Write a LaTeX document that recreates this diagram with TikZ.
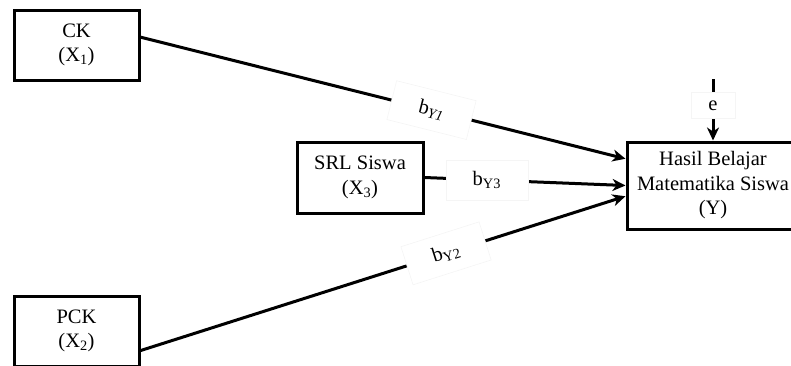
\documentclass[tikz,border=0pt]{standalone}
\usepackage{fontspec}
\setmainfont{Liberation Serif}
\usetikzlibrary{arrows.meta}
\begin{document}
\begin{tikzpicture}[x=1pt,y=-1pt,
 txt/.style={font=\fontsize{20.5}{24.5}\selectfont},
 box/.style={txt,draw,line width=3pt,fill=white,align=center,inner sep=0pt},
 lbl/.style={txt,fill=white,draw=black!4,line width=0.6pt,inner sep=0pt,minimum width=82pt,minimum height=40pt},
 elbl/.style={txt,fill=white,draw=black!4,line width=0.6pt,inner sep=0pt,minimum width=44pt,minimum height=26pt},
 conn/.style={line width=3pt},
 arr/.style={conn,-{Stealth[length=13pt,width=12pt,inset=4pt]}}]
\useasboundingbox (0,0) rectangle (791,365);
\clip (0,0) rectangle (791,365);
\node[box,minimum width=125pt,minimum height=70pt] (ck) at (76.5,45) {CK\\(X\textsubscript{1})};
\node[box,minimum width=125pt,minimum height=70pt] (pck) at (76.5,331) {PCK\\(X\textsubscript{2})};
\node[box,minimum width=126pt,minimum height=71pt] (srl) at (360,177.5) {SRL Siswa\\(X\textsubscript{3})};
\node[box,minimum width=172pt,minimum height=87pt] (y) at (713,185.5) {Hasil Belajar\\Matematika Siswa\\(Y)};
\coordinate (etop) at (713,79);
\draw[arr] (ck.7) -- node[lbl,sloped,pos=0.6] (l1) {b\textsubscript{\textit{Y1}}} (y.163.5);
\draw[arr] (srl.east) -- node[lbl,pos=0.31] (l3) {b\textsubscript{Y3}} (y.west);
\draw[arr] (pck.-17) -- node[lbl,sloped,pos=0.63] (l2) {b\textsubscript{Y2}} (y.187.6);
\draw[arr] (etop) -- node[elbl,pos=0.43] (le) {e} (y.north);
\end{tikzpicture}
\end{document}
